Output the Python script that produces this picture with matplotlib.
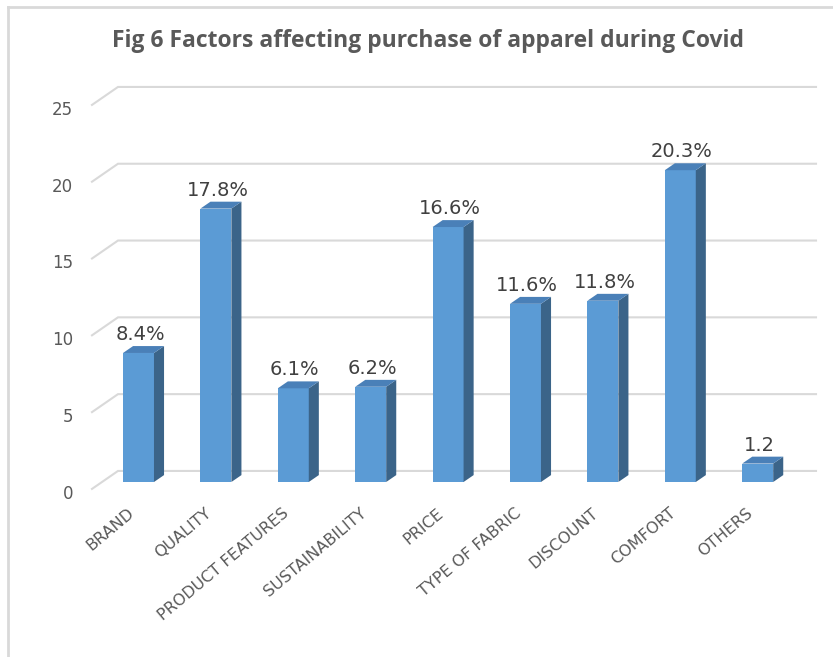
import matplotlib.pyplot as plt
from matplotlib.patches import Polygon

plt.rcParams['font.family'] = ['DejaVu Sans']

factors = ['BRAND', 'QUALITY', 'PRODUCT FEATURES', 'SUSTAINABILITY', 'PRICE',
           'TYPE OF FABRIC', 'DISCOUNT', 'COMFORT', 'OTHERS']
shares = [8.4, 17.8, 6.1, 6.2, 16.6, 11.6, 11.8, 20.3, 1.2]
bar_text = ['8.4%', '17.8%', '6.1%', '6.2%', '16.6%', '11.6%', '11.8%', '20.3%', '1.2']
yticks = [0, 5, 10, 15, 20, 25]

# pixel scale of the front plane
px_x = 77.4   # px per category
px_y = 15.36  # px per unit
W, H = 833, 657

front = '#5B9BD5'
side = '#3B6489'
top = '#4A80B8'
grid = '#D9D9D9'

fig = plt.figure(figsize=(W / 100, H / 100), dpi=100)
x0, x1 = -0.9, 8.9
y0, y1 = 0, 27
left_px = 138.5 + x0 * px_x
bottom_px = H - 482
ax = fig.add_axes([left_px / W, bottom_px / H, (x1 - x0) * px_x / W, (y1 - y0) * px_y / H])
ax.set_xlim(x0, x1)
ax.set_ylim(y0, y1)
ax.axis('off')

# back wall gridlines with the slanted floor edge on the left
gx0, gx1, gx2 = (92 - 138.5) / px_x, (118 - 138.5) / px_x, (816 - 138.5) / px_x
for v in yticks:
    ax.plot([gx0, gx1, gx2], [v - 0.45, v + 0.72, v + 0.72], color=grid, lw=1.5,
            clip_on=False, zorder=1, solid_joinstyle='miter')
    ax.text(-0.846, v - 1.1, str(v), ha='right', va='baseline', fontsize=12,
            color='#595959')

# bars with a small depth offset
bw = 0.2
dx, dy = 0.13, 0.45
for i, v in enumerate(shares):
    ax.bar(i, v, width=2 * bw, color=front, zorder=3, edgecolor='none')
    ax.add_patch(Polygon([(i + bw, 0), (i + bw + dx, dy), (i + bw + dx, v + dy), (i + bw, v)],
                         closed=True, facecolor=side, edgecolor='none', zorder=3))
    ax.add_patch(Polygon([(i - bw, v), (i - bw + dx, v + dy), (i + bw + dx, v + dy), (i + bw, v)],
                         closed=True, facecolor=top, edgecolor='none', zorder=3))
    ax.text(i + 0.02, v + 0.85, bar_text[i], ha='center', va='baseline', fontsize=14,
            color='#404040', zorder=4)
    ax.text(i - 0.085, -1.9, factors[i], rotation=40, rotation_mode='anchor',
            ha='right', va='center', fontsize=11.5, color='#595959')

fig.text(428 / W, 1 - 46.7 / H, 'Fig 6 Factors affecting purchase of apparel during Covid',
         ha='center', va='baseline', fontsize=16.5, fontweight='bold', color='#595959',
         family='Open Sans')

# chart frame
fig.add_artist(plt.Line2D([8 / W, 8 / W], [0, 1 - 7 / H], color=grid, lw=2))
fig.add_artist(plt.Line2D([8 / W, 1], [1 - 7 / H, 1 - 7 / H], color=grid, lw=2))

fig.savefig('out.png', dpi=100)
